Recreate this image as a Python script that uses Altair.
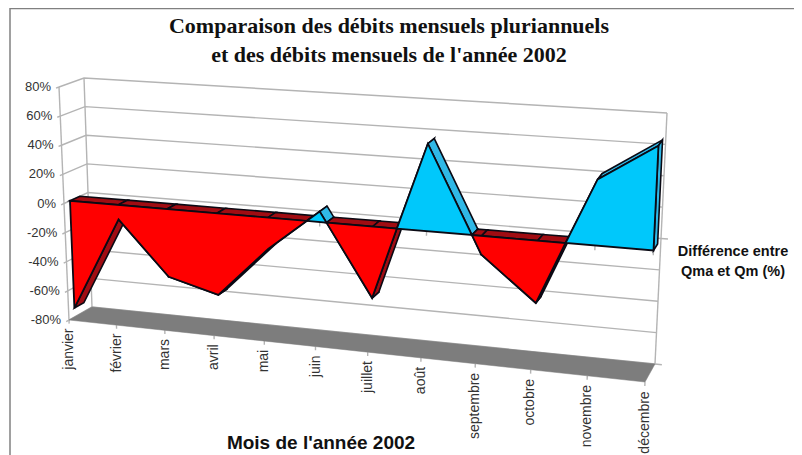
import altair as alt
import pandas as pd

MONTHS = ["janvier", "février", "mars", "avril", "mai", "juin", "juillet", "août",
          "septembre", "octobre", "novembre", "décembre"]
VALUES = [-74, -10, -46, -55, -21, 7, -47, 57, -12, -40, 42, 66]
VALUE_TICKS = [80, 60, 40, 20, 0, -20, -40, -60, -80]

# 3D box projection settings (corners of the Excel-style box on screen)
FLB, FLT, FRB, FRT = (69, 320), (59, 87), (645, 382), (657, 127)
BLB, BLT, BRB, BRT = (92, 307), (84, 78), (655, 364), (667, 113)
W_PERSP = 1.114
D0, D1 = 0.25, 0.66
WIDTH, HEIGHT = 786, 447


def expr(i):
    def lerp(a, b, f):
        return f"(({a})+(({b})-({a}))*{f})"
    u, t, d = "((datum.v+80)/160)", "datum.t", "datum.d"
    front = lerp(lerp(FLB[i], FLT[i], u), lerp(FRB[i], FRT[i], u), t)
    back = lerp(lerp(BLB[i], BLT[i], u), lerp(BRB[i], BRT[i], u), t)
    return lerp(front, back, d)


def base(rows):
    df = pd.DataFrame(rows)
    return (alt.Chart(df)
            .transform_calculate(s="datum.m/11")
            .transform_calculate(t=f"datum.s/(datum.s+{W_PERSP}*(1-datum.s))")
            .transform_calculate(px=expr(0), py=expr(1)))


X = alt.X("px:Q", scale=alt.Scale(domain=[8, 794], nice=False, zero=False), axis=None)
Y = alt.Y("py:Q", scale=alt.Scale(domain=[455, 8], nice=False, zero=False), axis=None)


def poly_rows(pid, kind, pts):
    return [dict(poly=pid, kind=kind, ord=i, m=m, v=v, d=d) for i, (m, v, d) in enumerate(pts)]


# contiguous runs of one sign, split where the series crosses zero
runs, cur = [], [(0, VALUES[0])]
for i in range(11):
    a, b = VALUES[i], VALUES[i + 1]
    if a * b < 0:
        mc = i + a / (a - b)
        cur.append((mc, 0))
        runs.append(cur)
        cur = [(mc, 0)]
    cur.append((i + 1, b))
runs.append(cur)

front_rows, side_rows = [], []
for r, run in enumerate(runs):
    neg = min(p[1] for p in run) < 0
    pts = [(m, v, D0) for m, v in run]
    if run[-1][1] != 0:
        pts.append((run[-1][0], 0, D0))
    if run[0][1] != 0:
        pts.append((run[0][0], 0, D0))
    front_rows += poly_rows(f"f{r}", "neg" if neg else "pos", pts)
    for j in range(len(run) - 1):
        (m1, v1), (m2, v2) = run[j], run[j + 1]
        k = "sneg" if neg else "spos"
        side_rows += poly_rows(f"s{r}_{j}", k, [(m1, v1, D0), (m2, v2, D0), (m2, v2, D1), (m1, v1, D1)])
        if neg:
            side_rows += poly_rows(f"c{r}_{j}", "sneg", [(m1, 0, D0), (m2, 0, D0), (m2, 0, D1), (m1, 0, D1)])
    me, ve = run[-1]
    if ve != 0:
        k = "sneg" if neg else "spos"
        side_rows += poly_rows(f"e{r}", k, [(me, ve, D0), (me, 0, D0), (me, 0, D1), (me, ve, D1)])

FILL = alt.Fill("kind:N", legend=None, scale=alt.Scale(
    domain=["neg", "pos", "sneg", "spos"], range=["#ff0000", "#00c8fb", "#a00c12", "#30b8e6"]))


def polys(rows, sw):
    return base(rows).mark_line(interpolate="linear-closed", filled=True, stroke="#0a0a14", strokeWidth=sw).encode(
        x=X, y=Y, fill=FILL, detail="poly:N", order="ord:Q")


# walls
grid_rows = []
for v in VALUE_TICKS:
    grid_rows += [dict(g=f"g{v}", ord=0, m=0, v=v, d=0), dict(g=f"g{v}", ord=1, m=0, v=v, d=1),
                  dict(g=f"g{v}", ord=2, m=11, v=v, d=1),
                  dict(g=f"t{v}", ord=0, m=0, v=v, d=0), dict(g=f"t{v}", ord=1, m=0, v=v, d=-0.12)]
for name, m, d in [("a", 0, 0), ("b", 0, 1), ("c", 11, 1)]:
    grid_rows += [dict(g=name, ord=0, m=m, v=-80, d=d), dict(g=name, ord=1, m=m, v=80, d=d)]
for v in [0, -80]:
    grid_rows += [dict(g=f"r{v}", ord=0, m=11, v=v, d=1), dict(g=f"r{v}", ord=1, m=11.12, v=v, d=1)]
for i in range(12):
    grid_rows += [dict(g=f"z{i}", ord=0, m=i, v=0, d=D0), dict(g=f"z{i}", ord=1, m=i, v=-3, d=D0),
                  dict(g=f"b{i}", ord=0, m=i, v=-80, d=0), dict(g=f"b{i}", ord=1, m=i, v=-82.5, d=0)]

grid = base(grid_rows).mark_line(color="#b4b4b4", strokeWidth=1.4).encode(x=X, y=Y, detail="g:N", order="ord:Q")

floor = base(
    poly_rows("floor", "floor", [(0, -80, 0), (0, -80, 1), (11, -80, 1), (11, -80, 0)])
).mark_line(interpolate="linear-closed", filled=True, stroke="#7d7d7d", strokeWidth=0.5, fill="#7d7d7d").encode(
    x=X, y=Y, detail="poly:N", order="ord:Q")

val_labels = base([dict(m=0, v=v, d=0, label=f"{v}%") for v in VALUE_TICKS]).mark_text(
    align="right", baseline="middle", dx=-8, font="Liberation Sans", fontSize=13, color="#333333"
).encode(x=X, y=Y, text="label:N")

month_labels = base([dict(m=i, v=-86.5, d=0, label=n) for i, n in enumerate(MONTHS)]).mark_text(
    align="right", baseline="middle", angle=270, font="Liberation Sans", fontSize=14, color="#333333", dx=1
).encode(x=X, y=Y, text="label:N")


def label(text, x, y, font, size, **kw):
    return alt.Chart(pd.DataFrame({"t": [text]})).mark_text(
        font=font, fontSize=size, fontWeight="bold", align="center", baseline="middle", color="#111111", **kw
    ).encode(x=alt.value(x), y=alt.value(y), text="t:N")


frame = [
    alt.Chart(pd.DataFrame({"a": [0]})).mark_rule(color="#808080", strokeWidth=1.5).encode(
        x=alt.value(2), x2=alt.value(786), y=alt.value(0.5)),
    alt.Chart(pd.DataFrame({"a": [0]})).mark_rule(color="#808080", strokeWidth=1.5).encode(
        x=alt.value(2), y=alt.value(0), y2=alt.value(447)),
]

chart = alt.layer(
    *frame,
    grid,
    floor,
    val_labels,
    month_labels,
    polys(side_rows, 1.6),
    polys(front_rows, 1.8),
    label("Comparaison des débits mensuels pluriannuels", 381, 18, "Liberation Serif", 22),
    label("et des débits mensuels de l'année 2002", 381, 47, "Liberation Serif", 22),
    label("Différence entre", 725, 244, "Liberation Sans", 14.5),
    label("Qma et Qm (%)", 725, 264, "Liberation Sans", 14.5),
    label("Mois de l'année 2002", 313, 435, "Liberation Sans", 19),
).properties(width=WIDTH, height=HEIGHT, padding=0, autosize=alt.AutoSizeParams(type="none")
).configure_view(stroke=None)

chart.save("out.html", embed_options={"renderer": "svg", "actions": False})
